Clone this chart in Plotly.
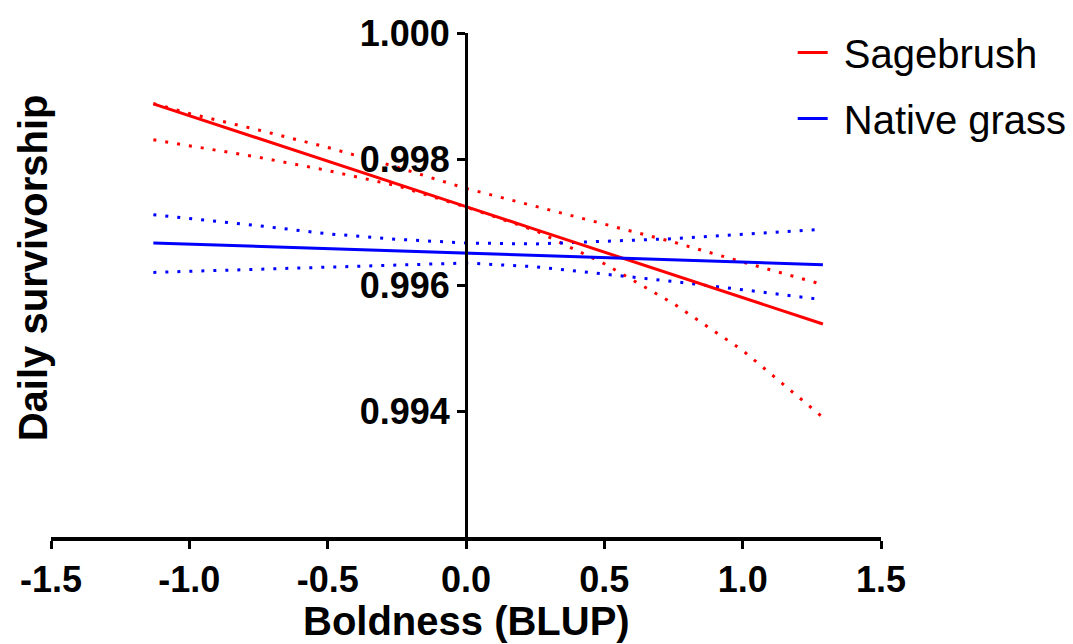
import plotly.graph_objects as go

# Boldness (BLUP) values at which the fitted curves are evaluated
boldness = [-1.13, -1.0, -0.75, -0.5, -0.25, 0.0, 0.25, 0.5, 0.75, 1.0, 1.29]

# Sagebrush: fitted daily survivorship and confidence band
sage_fit = [0.998876, 0.998687, 0.998327, 0.997965, 0.997605, 0.997244,
            0.996883, 0.996522, 0.996160, 0.995800, 0.995381]
sage_upper = [0.998880, 0.998722, 0.998460, 0.998184, 0.997871, 0.997533,
              0.997251, 0.996963, 0.996681, 0.996365, 0.996006]
sage_lower = [0.998306, 0.998214, 0.998027, 0.997817, 0.997576, 0.997238,
              0.996865, 0.996338, 0.995705, 0.994962, 0.993899]

# Native grass: fitted daily survivorship and confidence band
grass_fit = [0.996667, 0.996649, 0.996613, 0.996578, 0.996542, 0.996506,
             0.996471, 0.996435, 0.996399, 0.996364, 0.996322]
grass_upper = [0.997116, 0.997057, 0.996941, 0.996813, 0.996725, 0.996667,
               0.996651, 0.996694, 0.996735, 0.996806, 0.996886]
grass_lower = [0.996200, 0.996216, 0.996251, 0.996283, 0.996314, 0.996349,
               0.996290, 0.996171, 0.996056, 0.995925, 0.995767]

x_ticks = [-1.5, -1.0, -0.5, 0.0, 0.5, 1.0, 1.5]
x_tick_text = ["-1.5", "-1.0", "-0.5", "0.0", "0.5", "1.0", "1.5"]
y_ticks = [0.994, 0.996, 0.998, 1.000]
y_tick_text = ["0.994", "0.996", "0.998", "1.000"]

RED = "#FF0000"
BLUE = "#0000FF"
DOTS = "3px,9px"
PAD = "\u00a0"  # small gap between legend line and its label

fig = go.Figure()

for ys in (sage_upper, sage_lower):
    fig.add_trace(go.Scatter(x=boldness, y=ys, mode="lines", showlegend=False,
                             line=dict(color=RED, width=3, dash=DOTS),
                             hoverinfo="skip"))
for ys in (grass_upper, grass_lower):
    fig.add_trace(go.Scatter(x=boldness, y=ys, mode="lines", showlegend=False,
                             line=dict(color=BLUE, width=3, dash=DOTS),
                             hoverinfo="skip"))

fig.add_trace(go.Scatter(x=boldness, y=sage_fit, mode="lines", name=PAD + "Sagebrush",
                         legendgroup="sage", line=dict(color=RED, width=3)))
fig.add_trace(go.Scatter(x=boldness, y=grass_fit, mode="lines", name=PAD + "Native grass",
                         legendgroup="grass", line=dict(color=BLUE, width=3)))

tick_font = dict(family="Liberation Sans, Arial, sans-serif", size=36,
                 color="black", weight="bold")

fig.update_layout(
    width=1073, height=644,
    margin=dict(l=51, r=192, t=33, b=107, autoexpand=False),
    paper_bgcolor="white", plot_bgcolor="white",
    font=dict(family="Liberation Sans, Arial, sans-serif", color="black"),
    xaxis=dict(range=[-1.5, 1.5], tickvals=x_ticks, ticktext=x_tick_text,
               showgrid=False, zeroline=False, showline=True, linecolor="black",
               linewidth=4, ticks="outside", ticklen=8, tickwidth=3,
               tickcolor="black", tickfont=tick_font),
    yaxis=dict(range=[0.992, 1.000], tickvals=y_ticks, ticktext=y_tick_text,
               anchor="free", position=0.5,
               showgrid=False, zeroline=False, showline=True, linecolor="black",
               linewidth=3, ticks="outside", ticklen=8, tickwidth=3,
               tickcolor="black", tickfont=tick_font),
    legend=dict(x=0.8936, y=1.026, xanchor="left", yanchor="top",
                font=dict(size=40, color="black"), tracegroupgap=11,
                bgcolor="rgba(0,0,0,0)"),
    showlegend=True,
)

fig.add_annotation(text="Daily survivorship", textangle=-90, showarrow=False,
                   xref="paper", yref="paper", x=-0.0224, y=0.534,
                   xanchor="center", yanchor="middle",
                   font=dict(size=40, weight="bold", color="black"))
fig.add_annotation(text="Boldness (BLUP)", showarrow=False,
                   xref="paper", yref="paper", x=0.5, y=-0.167,
                   xanchor="center", yanchor="middle",
                   font=dict(size=40, weight="bold", color="black"))

fig.write_html("out.html")
